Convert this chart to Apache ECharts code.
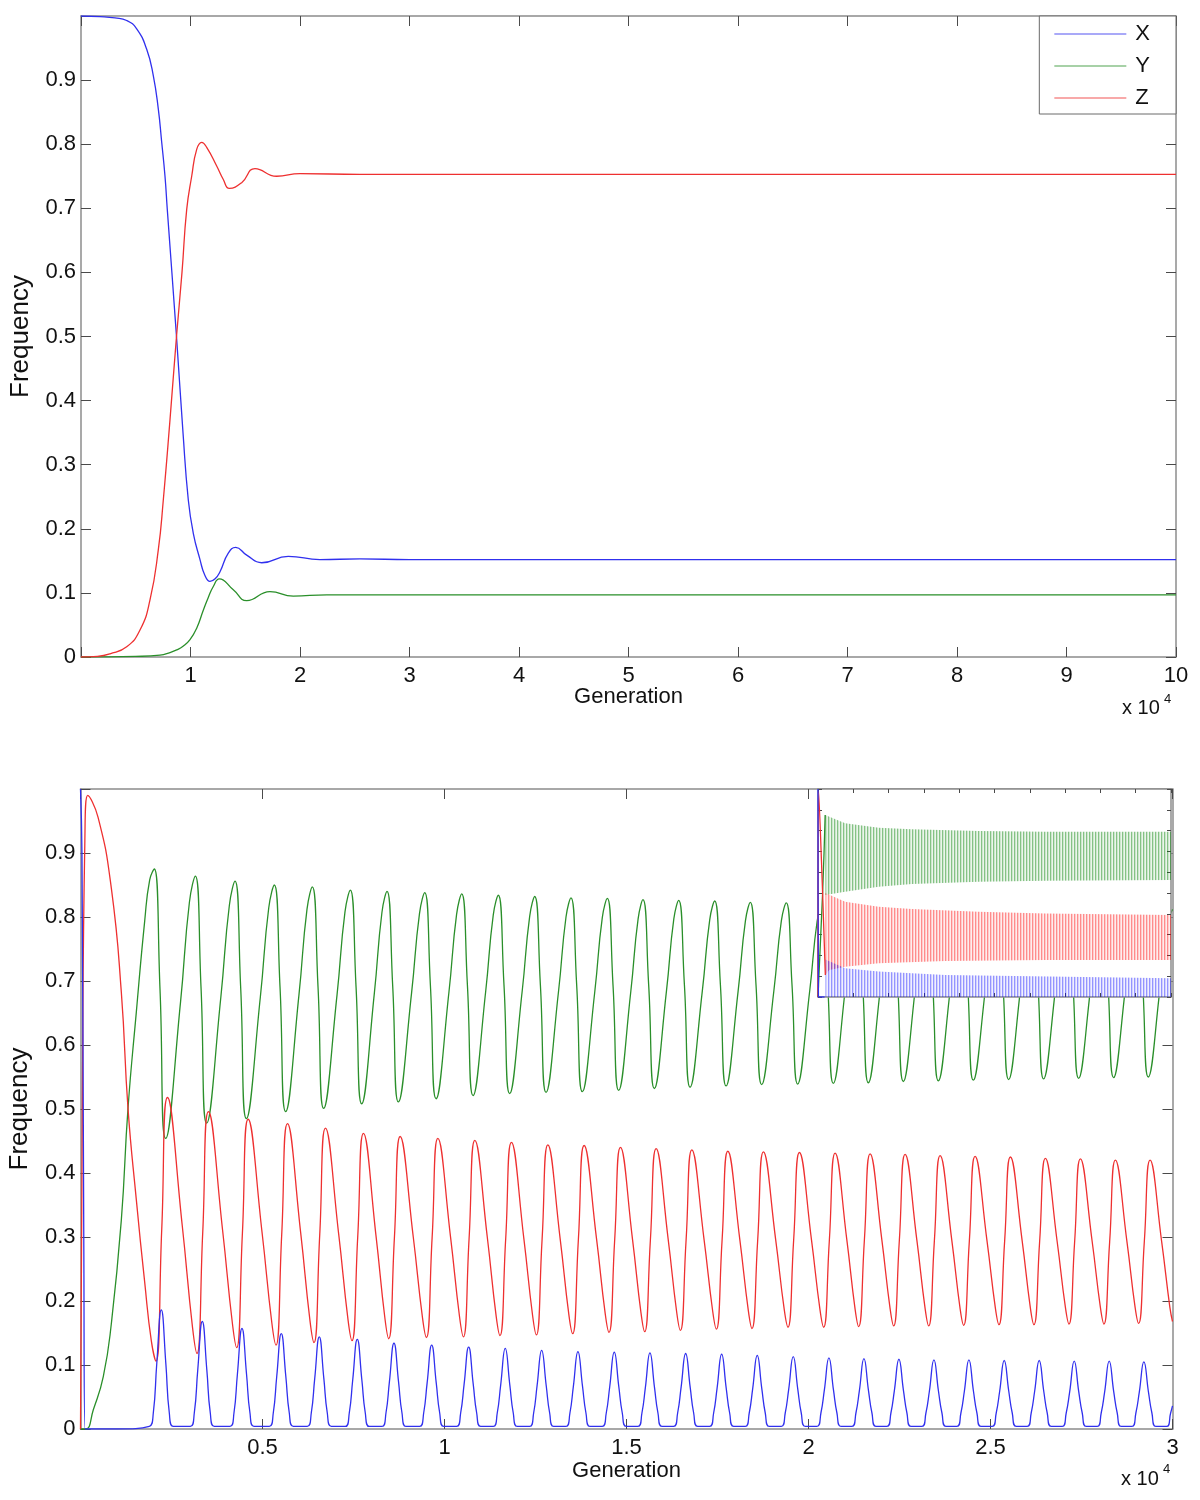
<!DOCTYPE html>
<html><head><meta charset="utf-8">
<script src="https://cdn.jsdelivr.net/npm/echarts@6/dist/echarts.min.js"></script>
<style>html,body{margin:0;padding:0;background:#fff}#c{width:1200px;height:1500px}</style>
</head><body><div id="c"></div>
<script>
// ---------- data (generation, frequency) ----------
const seriesNames = ['X', 'Y', 'Z'];
const axisTitleX = 'Generation';
const axisTitleY = 'Frequency';
const scaleText = 'x 10';
const scaleExp = '4';
const genScale = 10000;

// Top panel: 0 .. 100000 generations
const topX = [[0,1],[1735,.999],[3105,.997],[4173,.993],[5087,.98],[6000,.948],[6602,.907],[7059,.855],[7370,.803],[7671,.75],[7881,.698],[8721,.5],[9315,.35],[9799,.245],[10255,.193],[10867,.152],[11300,.128],[11780,.118],[12250,.122],[12693,.133],[13451,.162],[14127,.171],[15132,.159],[16502,.147],[18931,.157],[21825,.152],[25478,.153],[30000,.152],[100000,.152]];
const topY = [[0,0],[5000,.001],[7214,.003],[8130,.007],[8739,.011],[9350,.017],[9954,.027],[10565,.045],[11168,.073],[11625,.093],[12082,.110],[12630,.122],[13908,.105],[15132,.088],[17259,.102],[19387,.095],[22437,.097],[100000,.097]];
const topZ = [[0,0],[1500,.001],[2648,.005],[4173,.016],[5388,.042],[6301,.089],[7059,.167],[7516,.245],[8127,.37],[8721,.5],[9223,.6],[9652,.698],[10109,.75],[10566,.792],[11022,.803],[11479,.795],[12392,.766],[12997,.745],[13543,.731],[14675,.740],[15890,.762],[17871,.750],[20000,.754],[25478,.753],[100000,.753]];

// Bottom panel: 0 .. 30000 generations
const botX = [[0,1],[40,.9],[90,.3],[125,0],[1000,0],
[1890,.004],[2000,.025],[2095,.102],[2220,.186],[2345,.102],[2440,.025],[2550,.004],
[3016,.004],[3126,.025],[3221,.092],[3346,.168],[3471,.092],[3566,.025],[3676,.004],
[4106,.004],[4216,.025],[4311,.086],[4436,.157],[4561,.086],[4656,.025],[4766,.004],
[5186,.004],[5296,.025],[5391,.082],[5516,.149],[5641,.082],[5736,.025],[5846,.004],
[6230,.004],[6340,.025],[6435,.079],[6560,.144],[6685,.079],[6780,.025],[6890,.004],
[7274,.004],[7384,.025],[7479,.077],[7604,.140],[7729,.077],[7824,.025],[7934,.004],
[8282,.004],[8392,.025],[8487,.074],[8612,.134],[8737,.074],[8832,.025],[8942,.004],
[9318,.004],[9428,.025],[9523,.072],[9648,.131],[9773,.072],[9868,.025],[9978,.004],
[10334,.004],[10444,.025],[10539,.070],[10664,.128],[10789,.070],[10884,.025],[10994,.004],
[11339,.004],[11449,.025],[11544,.069],[11669,.126],[11794,.069],[11889,.025],[11999,.004],
[12339,.004],[12449,.025],[12544,.068],[12669,.123],[12794,.068],[12889,.025],[12999,.004],
[13336,.004],[13446,.025],[13541,.067],[13666,.121],[13791,.067],[13886,.025],[13996,.004],
[14334,.004],[14444,.025],[14539,.066],[14664,.120],[14789,.066],[14884,.025],[14994,.004],
[15314,.004],[15424,.025],[15519,.065],[15644,.119],[15769,.065],[15864,.025],[15974,.004],
[16295,.004],[16405,.025],[16500,.065],[16625,.118],[16750,.065],[16845,.025],[16955,.004],
[17284,.004],[17394,.025],[17489,.064],[17614,.117],[17739,.064],[17834,.025],[17944,.004],
[18262,.004],[18372,.025],[18467,.063],[18592,.115],[18717,.063],[18812,.025],[18922,.004],
[19251,.004],[19361,.025],[19456,.062],[19581,.113],[19706,.062],[19801,.025],[19911,.004],
[20231,.004],[20341,.025],[20436,.061],[20561,.111],[20686,.061],[20781,.025],[20891,.004],
[21193,.004],[21303,.025],[21398,.060],[21523,.110],[21648,.060],[21743,.025],[21853,.004],
[22154,.004],[22264,.025],[22359,.060],[22484,.109],[22609,.060],[22704,.025],[22814,.004],
[23116,.004],[23226,.025],[23321,.059],[23446,.108],[23571,.059],[23666,.025],[23776,.004],
[24077,.004],[24187,.025],[24282,.059],[24407,.108],[24532,.059],[24627,.025],[24737,.004],
[25047,.004],[25157,.025],[25252,.059],[25377,.107],[25502,.059],[25597,.025],[25707,.004],
[26008,.004],[26118,.025],[26213,.059],[26338,.107],[26463,.059],[26558,.025],[26668,.004],
[26970,.004],[27080,.025],[27175,.058],[27300,.106],[27425,.058],[27520,.025],[27630,.004],
[27931,.004],[28041,.025],[28136,.058],[28261,.106],[28386,.058],[28481,.025],[28591,.004],
[28884,.004],[28994,.025],[29089,.058],[29214,.105],[29339,.058],[29434,.025],[29544,.004],
[29839,.004],[29949,.025],[30000,.036]];

const botY = [[0,0],[150,0],[352,.03],[626,.082],[846,.164],[1121,.326],[1305,.501],[1533,.651],[1764,.794],[1901,.858],
[2028,.875],[2185,.686],[2341,.454],[2748,.667],[2992,.823],
[3154,.864],[3311,.690],[3467,.478],[3856,.675],[4089,.818],
[4244,.856],[4401,.689],[4557,.485],[4941,.675],[5171,.814],
[5324,.850],[5481,.691],[5637,.496],[6003,.679],[6222,.812],
[6368,.847],[6525,.691],[6681,.501],[7047,.678],[7266,.808],
[7412,.842],[7569,.692],[7725,.508],[8073,.681],[8281,.807],
[8420,.840],[8577,.692],[8733,.511],[9095,.681],[9312,.805],
[9456,.838],[9613,.693],[9769,.516],[10121,.682],[10332,.804],
[10472,.836],[10629,.694],[10785,.521],[11132,.684],[11339,.803],
[11477,.834],[11634,.694],[11790,.524],[12134,.684],[12340,.801],
[12477,.832],[12634,.694],[12790,.526],[13133,.684],[13338,.800],
[13474,.830],[13631,.694],[13787,.527],[14130,.684],[14335,.799],
[14472,.829],[14629,.694],[14785,.529],[15119,.684],[15319,.797],
[15452,.827],[15609,.694],[15765,.532],[16099,.685],[16300,.797],
[16433,.826],[16590,.695],[16746,.534],[17084,.685],[17287,.796],
[17422,.825],[17579,.695],[17735,.536],[18068,.685],[18267,.794],
[18400,.823],[18557,.695],[18713,.538],[19051,.686],[19254,.794],
[19389,.822],[19546,.695],[19702,.539],[20036,.686],[20236,.793],
[20369,.821],[20526,.695],[20682,.540],[21007,.686],[21202,.792],
[21331,.820],[21488,.694],[21644,.541],[21969,.686],[22163,.791],
[22292,.819],[22449,.695],[22605,.543],[22930,.686],[23125,.791],
[23254,.818],[23411,.695],[23567,.544],[23892,.686],[24086,.791],
[24215,.818],[24372,.695],[24528,.545],[24857,.686],[25054,.790],
[25185,.817],[25342,.695],[25498,.546],[25823,.687],[26017,.790],
[26146,.817],[26303,.695],[26459,.547],[26784,.687],[26979,.789],
[27108,.816],[27265,.695],[27421,.548],[27746,.687],[27940,.789],
[28069,.816],[28226,.696],[28382,.549],[28703,.687],[28894,.788],
[29022,.815],[29179,.696],[29335,.550],[29657,.688],[29849,.789],[30000,.812]];

const botZ = [[0,0],[50,.5],[120,.92],[200,.99],[481,.956],[847,.845],[1121,.683],[1305,.501],[1534,.358],[1764,.229],[1945,.138],
[2075,.106],[2232,.312],[2390,.518],[2795,.318],[3079,.158],
[3201,.118],[3358,.307],[3516,.496],[3903,.311],[4175,.164],
[4291,.127],[4448,.306],[4606,.484],[4988,.307],[5256,.166],
[5371,.131],[5528,.304],[5686,.477],[6050,.306],[6305,.169],
[6415,.135],[6572,.303],[6730,.470],[7094,.304],[7349,.171],
[7459,.138],[7616,.300],[7774,.462],[8120,.301],[8363,.173],
[8467,.141],[8624,.299],[8782,.457],[9142,.300],[9395,.174],
[9503,.143],[9660,.299],[9818,.454],[10168,.299],[10414,.175],
[10519,.144],[10676,.298],[10834,.451],[11179,.298],[11420,.176],
[11524,.146],[11681,.297],[11839,.448],[12181,.297],[12421,.177],
[12524,.147],[12681,.296],[12839,.444],[13180,.296],[13418,.178],
[13521,.149],[13678,.296],[13836,.443],[14177,.297],[14416,.180],
[14519,.151],[14676,.296],[14834,.440],[15166,.296],[15399,.181],
[15499,.152],[15656,.295],[15814,.438],[16146,.296],[16380,.182],
[16480,.154],[16637,.295],[16795,.436],[17131,.296],[17368,.184],
[17469,.156],[17626,.295],[17784,.434],[18115,.295],[18347,.185],
[18447,.157],[18604,.295],[18762,.433],[19098,.296],[19335,.186],
[19436,.159],[19593,.296],[19751,.432],[20083,.295],[20316,.186],
[20416,.159],[20573,.295],[20731,.431],[21054,.295],[21281,.187],
[21378,.160],[21535,.295],[21693,.430],[22016,.295],[22242,.188],
[22339,.161],[22496,.295],[22654,.429],[22977,.295],[23204,.188],
[23301,.161],[23458,.294],[23616,.427],[23939,.294],[24165,.188],
[24262,.162],[24419,.294],[24577,.426],[24904,.294],[25134,.189],
[25232,.163],[25389,.294],[25547,.425],[25870,.294],[26096,.189],
[26193,.163],[26350,.293],[26508,.423],[26831,.293],[27058,.190],
[27155,.164],[27312,.293],[27470,.422],[27793,.293],[28019,.190],
[28116,.164],[28273,.292],[28431,.420],[28750,.292],[28973,.190],
[29069,.165],[29226,.293],[29384,.420],[29704,.292],[29928,.190],[30000,.168]];

// Inset: 0 .. 100000 generations, start transient + oscillation envelopes
const insetStartX = [[0,1],[125,0],[1890,0]];
const insetStartY = [[0,0],[1305,.5],[2028,.875]];
const insetStartZ = [[0,0],[200,.99],[1305,.5],[2075,.106]];
const insetYUpper = [[2028,.875],[7700,.835],[17200,.814],[26600,.806],[45500,.798],[64400,.795],[100000,.795]];
const insetYLower = [[2100,.49],[7700,.506],[17200,.530],[26600,.543],[45500,.554],[64400,.559],[100000,.5625]];
const insetZUpper = [[2100,.50],[7700,.458],[17200,.434],[26600,.423],[45500,.410],[64400,.402],[100000,.394]];
const insetZLower = [[2100,.106],[3200,.130],[7700,.146],[17200,.162],[36100,.173],[64400,.178],[100000,.178]];
const insetXUpper = [[2100,.18],[7700,.138],[17200,.122],[36100,.106],[100000,.090]];
const insetXLower = [[2100,0],[100000,0]];

// ---------- styling ----------
const COL = {X:'#3030ee', Y:'#2a8f2a', Z:'#ee3030'};
const FONT = '"Liberation Sans", Arial, Helvetica, sans-serif';
const AXC = '#8c8c8c', TKC = '#4a4a4a', TXT = '#111';

function makePattern(rgb, alphas) {
  const cv = document.createElement('canvas');
  cv.width = alphas.length; cv.height = 2;
  const ctx = cv.getContext('2d');
  alphas.forEach((a, i) => { ctx.fillStyle = 'rgba(' + rgb + ',' + a + ')'; ctx.fillRect(i, 0, 1, 2); });
  return {image: cv, repeat: 'repeat'};
}

function xAxes(gridIndex, max, interval, labels, tickLen, zlevel, name, nameGap) {
  const base = {type:'value', gridIndex, min:0, max, interval, zlevel: zlevel || 0,
    splitLine:{show:false},
    axisLine:{show:true, onZero:false, lineStyle:{color:AXC, width:1.5}},
    axisTick:{show:true, inside:true, length:tickLen, lineStyle:{color:TKC, width:1}}};
  const b = Object.assign({}, base, {position:'bottom',
    axisLabel: labels ? {show:true, margin:8, fontSize:22, color:TXT, fontFamily:FONT,
      formatter: v => v === 0 ? '' : String(v / genScale)} : {show:false}});
  if (name) Object.assign(b, {name, nameLocation:'middle', nameGap, nameMoveOverlap:false,
    nameTextStyle:{fontSize:22, color:TXT, fontFamily:FONT}});
  const t = Object.assign({}, base, {position:'top', axisLabel:{show:false}});
  return [b, t];
}
function yAxes(gridIndex, labels, tickLen, zlevel, name, nameGap) {
  const base = {type:'value', gridIndex, min:0, max:1, interval:0.1, zlevel: zlevel || 0,
    splitLine:{show:false},
    axisLine:{show:true, onZero:false, lineStyle:{color:AXC, width:1.5}},
    axisTick:{show:true, inside:true, length:tickLen, lineStyle:{color:TKC, width:1}}};
  const l = Object.assign({}, base, {position:'left',
    axisLabel: labels ? {show:true, margin:5, fontSize:22, color:TXT, fontFamily:FONT,
      formatter: v => v >= 0.999 ? '' : String(Math.round(v * 10) / 10)} : {show:false}});
  if (name) Object.assign(l, {name, nameLocation:'middle', nameGap, nameMoveOverlap:false,
    nameTextStyle:{fontSize:26, color:TXT, fontFamily:FONT}});
  const r = Object.assign({}, base, {position:'right', axisLabel:{show:false}});
  return [l, r];
}

function line(name, data, xi, yi, zlevel) {
  return {type:'line', name, data, xAxisIndex:xi, yAxisIndex:yi, zlevel: zlevel || 0, z: 3,
    symbol:'none', showSymbol:false, smooth:0.5, animation:false, silent:true,
    lineStyle:{color:COL[name], width:1.3}, itemStyle:{color:COL[name]}};
}
function band(name, upper, lower, fill) {
  return {type:'custom', name: name + ' band', xAxisIndex:4, yAxisIndex:4, zlevel:1, z:2,
    silent:true, animation:false, clip:true, data:[[0,0]],
    renderItem: (params, api) => {
      const pts = upper.map(p => api.coord(p)).concat(lower.slice().reverse().map(p => api.coord(p)));
      return {type:'polygon', shape:{points:pts}, style:{fill: fill, stroke:null}};
    }};
}

const patY = makePattern('0,128,0', [0.48, 0.2, 0.08]);
const patZ = makePattern('255,0,0', [0.45, 0.2, 0.07]);
const patX = makePattern('0,0,255', [0.42, 0.18, 0.06]);

const xa = [].concat(
  xAxes(0, 100000, 10000, true, 10, 0, axisTitleX, 29),
  xAxes(1, 30000, 5000, true, 10, 0, axisTitleX, 31),
  xAxes(2, 100000, 10000, false, 4, 1)
);
const ya = [].concat(
  yAxes(0, true, 10, 0, axisTitleY, 47),
  yAxes(1, true, 10, 0, axisTitleY, 48),
  yAxes(2, false, 4, 1)
);

const option = {
  animation:false,
  backgroundColor:'#fff',
  textStyle:{fontFamily:FONT},
  grid:[
    {left:81, right:24, top:16, bottom:843, containLabel:false, outerBoundsMode:'none'},
    {left:80.5, right:27.5, top:789, bottom:71, containLabel:false, outerBoundsMode:'none'},
    {left:818, right:29, top:789, bottom:503, containLabel:false, outerBoundsMode:'none',
     show:true, backgroundColor:'#fff', borderWidth:0, zlevel:1}
  ],
  xAxis: xa,
  yAxis: ya,
  legend:{data:seriesNames, orient:'vertical', right:24, top:16, padding:[7, 26, 5, 15],
    icon:'rect', itemWidth:72, itemHeight:1.5, itemGap:10, backgroundColor:'#fff', borderColor:'#6a6a6a',
    borderWidth:1, borderRadius:0, selectedMode:false,
    itemStyle:{opacity:0.55},
    textStyle:{fontSize:22, color:TXT, fontFamily:FONT, padding:[0,0,0,4]}},
  graphic:{elements:[
    {type:'text', x:1122, y:708, style:{text:scaleText, font:'20px ' + FONT, fill:TXT, verticalAlign:'middle'}},
    {type:'text', x:1164, y:699, style:{text:scaleExp, font:'13px ' + FONT, fill:TXT, verticalAlign:'middle'}},
    {type:'text', x:1121, y:1479, style:{text:scaleText, font:'20px ' + FONT, fill:TXT, verticalAlign:'middle'}},
    {type:'text', x:1163, y:1469, style:{text:scaleExp, font:'13px ' + FONT, fill:TXT, verticalAlign:'middle'}}
  ]},
  series:[
    line('X', topX, 0, 0), line('Y', topY, 0, 0), line('Z', topZ, 0, 0),
    line('Y', botY, 2, 2), line('Z', botZ, 2, 2), line('X', botX, 2, 2),
    band('Y', insetYUpper, insetYLower, patY),
    band('Z', insetZUpper, insetZLower, patZ),
    band('X', insetXUpper, insetXLower, patX),
    line('Y', insetStartY, 4, 4, 1), line('Z', insetStartZ, 4, 4, 1), line('X', insetStartX, 4, 4, 1)
  ]
};
const chart = echarts.init(document.getElementById('c'), null, {renderer:'canvas'});
chart.setOption(option);
</script>
</body></html>
